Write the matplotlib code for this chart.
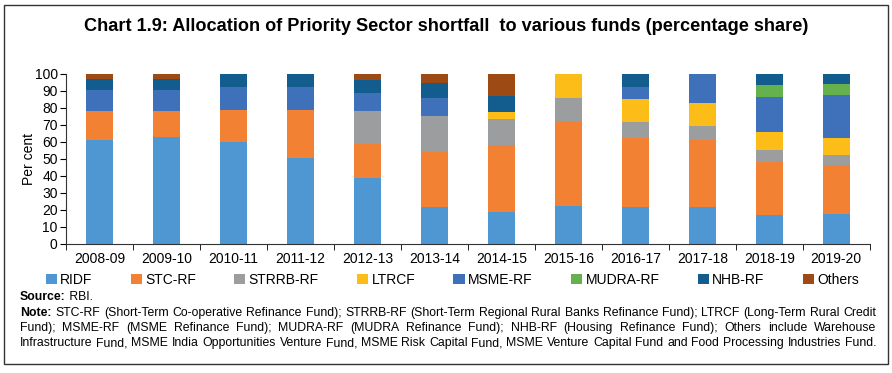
import matplotlib
matplotlib.use("Agg")
import matplotlib.pyplot as plt
import numpy as np
from matplotlib.patches import Rectangle

years = ["2008-09", "2009-10", "2010-11", "2011-12", "2012-13", "2013-14",
         "2014-15", "2015-16", "2016-17", "2017-18", "2018-19", "2019-20"]
ridf   = [61.0, 63.0, 60.0, 50.5, 39.0, 21.5, 19.0, 22.5, 22.0, 21.5, 17.0, 17.5]
stc_rf = [17.0, 15.0, 18.5, 28.0, 19.5, 32.5, 39.0, 49.5, 40.5, 39.5, 31.0, 29.0]
strrb  = [0.0, 0.0, 0.0, 0.0, 19.5, 21.0, 15.5, 14.0, 9.0, 8.5, 7.5, 6.0]
ltrcf  = [0.0, 0.0, 0.0, 0.0, 0.0, 0.0, 4.0, 14.0, 14.0, 13.5, 10.5, 9.5]
msme   = [12.5, 12.5, 14.0, 13.5, 10.5, 11.0, 0.0, 0.0, 7.0, 17.0, 20.5, 25.5]
mudra  = [0.0, 0.0, 0.0, 0.0, 0.0, 0.0, 0.0, 0.0, 0.0, 0.0, 7.0, 6.5]
nhb    = [6.5, 6.5, 7.5, 8.0, 8.0, 8.5, 9.5, 0.0, 7.5, 0.0, 6.5, 6.0]
others = [3.0, 3.0, 0.0, 0.0, 3.5, 5.5, 13.0, 0.0, 0.0, 0.0, 0.0, 0.0]

series_names = ["RIDF", "STC-RF", "STRRB-RF", "LTRCF", "MSME-RF", "MUDRA-RF", "NHB-RF", "Others"]
series_vals = [ridf, stc_rf, strrb, ltrcf, msme, mudra, nhb, others]
colors = ["#4f97d3", "#f28133", "#9b9d9e", "#fdbd18", "#3e71b9", "#64b14d", "#135d8e", "#9d4a14"]

y_ticks = list(range(0, 101, 10))

title = "Chart 1.9: Allocation of Priority Sector shortfall  to various funds (percentage share)"
source_label = "Source:"
source_text = " RBI."
note_lines = [
    "STC-RF (Short-Term Co-operative Refinance Fund); STRRB-RF (Short-Term Regional Rural Banks Refinance Fund); LTRCF (Long-Term Rural Credit",
    "Fund); MSME-RF (MSME Refinance Fund); MUDRA-RF (MUDRA Refinance Fund); NHB-RF (Housing Refinance Fund); Others include Warehouse",
    "Infrastructure Fund, MSME India Opportunities Venture Fund, MSME Risk Capital Fund, MSME Venture Capital Fund and Food Processing Industries Fund.",
]

REG = ["Liberation Sans", "DejaVu Sans"]

fig = plt.figure(figsize=(8.92, 3.73), dpi=100)
ax = fig.add_axes([0.074, 0.346, 0.901, 0.456])

x = np.arange(len(years))
bottom = np.zeros(len(years))
for name, vals, c in zip(series_names, series_vals, colors):
    v = np.array(vals)
    ax.bar(x, v, 0.4, bottom=bottom, color=c, label=name, linewidth=0)
    bottom += v

ax.set_xlim(-0.5, len(years) - 0.5)
ax.set_ylim(0, 100)
ax.set_yticks(y_ticks)
ax.set_yticklabels([str(t) for t in y_ticks], fontsize=10, family=REG)
ax.set_xticks(x)
ax.set_xticklabels(years, fontsize=10, family=REG)
ax.tick_params(axis="x", length=0, pad=6)
ax.set_xticks(np.arange(-0.5, len(years), 1), minor=True)
ax.tick_params(axis="x", which="minor", length=4, direction="out")
ax.tick_params(axis="y", length=4, direction="out", pad=2)
for s in ["top", "right"]:
    ax.spines[s].set_visible(False)
ax.spines["left"].set_color("#333333")
ax.spines["bottom"].set_color("#333333")
ax.set_ylabel("Per cent", fontsize=10, family=REG, labelpad=-1)

fig.text(0.5, 0.93, title, ha="center", va="center", fontsize=13.1,
         fontweight="bold", family=REG)

handles, labels = ax.get_legend_handles_labels()
leg = fig.legend(handles, labels, loc="center", ncol=8, mode="expand",
                 bbox_to_anchor=(0.037, 1 - 280 / 373, 0.94, 0.0),
                 frameon=False, handlelength=0.8, handleheight=0.8,
                 handletextpad=0.25, prop={"family": REG, "size": 10})

# Source and note text
fig.canvas.draw()
renderer = fig.canvas.get_renderer()
x0 = 20 / 892
x1 = 876 / 892

def width_of(t):
    bb = t.get_window_extent(renderer=renderer)
    return bb.width / fig.bbox.width

fs = 8.8
sy = 1 - 297 / 373
t1 = fig.text(x0, sy, source_label, fontsize=fs, fontweight="bold", family=REG, va="center")
fig.text(x0 + width_of(t1), sy, source_text, fontsize=fs, family=REG, va="center")

line_y = [1 - 313 / 373, 1 - 328 / 373, 1 - 343 / 373]
for i, (line, ly) in enumerate(zip(note_lines, line_y)):
    words = line.split(" ")
    items = []
    if i == 0:
        items.append(("Note:", "bold"))
    for w in words:
        items.append((w, "normal"))
    texts = [fig.text(0, ly, w, fontsize=fs, fontweight=fw, family=REG, va="center")
             for w, fw in items]
    widths = [width_of(t) for t in texts]
    gap = (x1 - x0 - sum(widths)) / (len(texts) - 1)
    cx = x0
    for t, w in zip(texts, widths):
        t.set_x(cx)
        cx += w + gap

fig.patches.append(Rectangle((4 / 892, 1 - 364 / 373), 884 / 892, 359 / 373,
                             transform=fig.transFigure, fill=False,
                             edgecolor="#333333", linewidth=1.0))

fig.savefig("out.png", dpi=100)
